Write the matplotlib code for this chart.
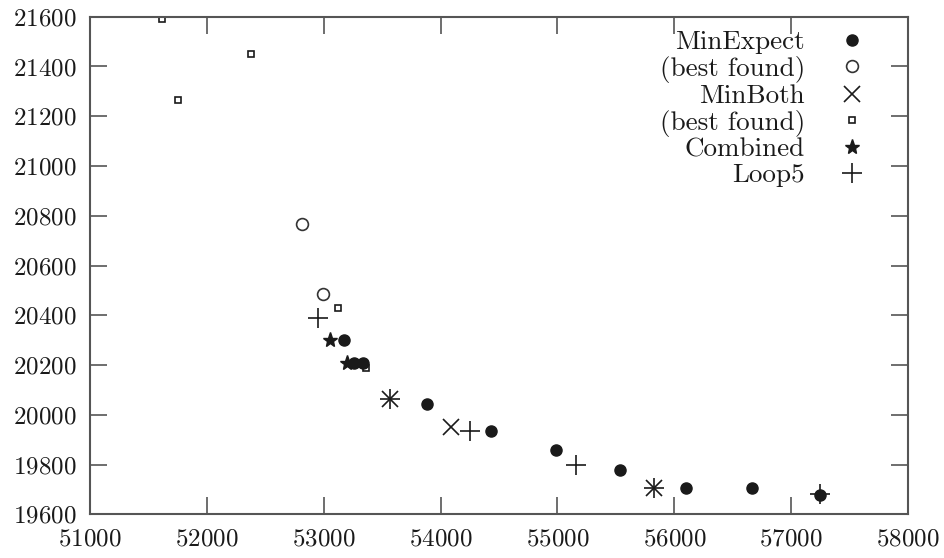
import matplotlib
matplotlib.use("Agg")
import matplotlib.pyplot as plt

plt.rcParams['font.family'] = ['cmr10', 'DejaVu Serif']
plt.rcParams['axes.formatter.use_mathtext'] = True
plt.rcParams['mathtext.fontset'] = 'cm'

# data
minexpect_x = [53170, 53255, 53340, 53885, 54430, 54985, 55535, 56100, 56665, 57250]
minexpect_y = [20300, 20210, 20210, 20045, 19935, 19858, 19780, 19707, 19707, 19678]

minexpect_best_x = [52815, 52990]
minexpect_best_y = [20765, 20485]

minboth_x = [53565, 54090, 55825]
minboth_y = [20065, 19952, 19705]

minboth_best_x = [51615, 52380, 51750, 53120, 53360]
minboth_best_y = [21590, 21450, 21265, 20430, 20190]

combined_x = [53050, 53200]
combined_y = [20300, 20207]

loop5_x = [52950, 53565, 54250, 55160, 55825, 57250]
loop5_y = [20390, 20065, 19933, 19800, 19705, 19680]

xticks = [51000, 52000, 53000, 54000, 55000, 56000, 57000, 58000]
yticks = [19600, 19800, 20000, 20200, 20400, 20600, 20800, 21000, 21200, 21400, 21600]

ink = '#1a1a1a'

fig = plt.figure(figsize=(9.45, 5.58), dpi=100)
ax = fig.add_axes([90/945, 1 - 514.3/558, (908-90)/945, (514.3-16.7)/558])

ax.plot(minexpect_x, minexpect_y, 'o', color=ink, ms=8, ls='none', label='MinExpect')
ax.plot(minexpect_best_x, minexpect_best_y, 'o', mfc='none', mec='#333333', mew=1.2, ms=8.5,
        ls='none', label='(best found)')
ax.plot(minboth_x, minboth_y, 'x', color=ink, ms=11, mew=1.2, ls='none', label='MinBoth')
ax.plot(minboth_best_x, minboth_best_y, 's', mfc='none', mec=ink, mew=1.2, ms=4.5,
        ls='none', label='(best found)')
ax.plot(combined_x, combined_y, '*', color=ink, ms=11, ls='none', label='Combined')
ax.plot(loop5_x, loop5_y, '+', color=ink, ms=15, mew=1.2, ls='none', label='Loop5')

ax.set_xlim(51000, 58000)
ax.set_ylim(19600, 21600)
ax.set_xticks(xticks)
ax.set_yticks(yticks)
ax.tick_params(direction='in', length=12, width=1.2, color='#555555',
               top=True, right=True, labelsize=18, pad=10, labelcolor=ink)
for s in ax.spines.values():
    s.set_color('#555555')
    s.set_linewidth(1.5)

leg = ax.legend(loc='upper right', bbox_to_anchor=(0.9477, 0.973), frameon=False,
                markerfirst=False, fontsize=19.5, handlelength=1.0, handletextpad=1.22,
                labelspacing=0.055, borderpad=0, borderaxespad=0, numpoints=1)
for t in leg.get_texts():
    t.set_color(ink)

fig.savefig("out.png", dpi=100)
